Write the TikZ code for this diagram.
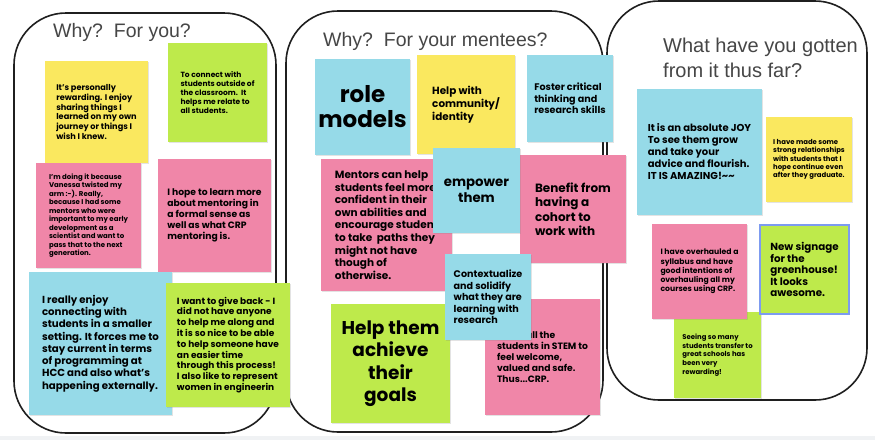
\documentclass[tikz,border=0pt]{standalone}
\usepackage{fontspec}
\usetikzlibrary{shadows}
\newfontfamily\notefont{Poppins}
\newfontfamily\titlefont{Liberation Sans}
\definecolor{noteyellow}{RGB}{250,232,95}
\definecolor{notegreen}{RGB}{190,234,75}
\definecolor{notepink}{RGB}{240,134,168}
\definecolor{noteblue}{RGB}{150,218,232}
\definecolor{titlegray}{RGB}{70,70,70}
\definecolor{selectblue}{RGB}{125,155,240}
\definecolor{bandgray}{RGB}{240,242,244}
\newcommand\notesize[2]{\notefont\bfseries\fontsize{#1}{#2}\selectfont}

\begin{document}
\begin{tikzpicture}[x=1pt,y=-1pt,
  boxline/.style={draw=black!88, line width=1.6pt, rounded corners=52pt},
  title/.style={font=\titlefont\fontsize{19.5}{24.5}\selectfont, text=titlegray,
    inner sep=0pt, anchor=north west, align=left},
  note/.style={inner sep=0pt, align=left,
    drop shadow={shadow xshift=.6pt, shadow yshift=-1.2pt, opacity=.22}},
  notedim/.style 2 args={minimum width=#1pt, minimum height=#2pt},
  yellownote/.style={note, fill=noteyellow},
  greennote/.style={note, fill=notegreen},
  pinknote/.style={note, fill=notepink},
  bluenote/.style={note, fill=noteblue}]

  \fill[white] (0,0) rectangle (875,440);
  \fill[bandgray] (0,436) rectangle (875,440);
  \useasboundingbox (0,0) rectangle (875,440);

  % the three frames
  \draw[boxline] (14,13) rectangle (276,433);
  \draw[boxline] (286,11) rectangle (603,432);
  \draw[boxline] (607,1) rectangle (867,400);

  \node[title] (foryou) at (53,23) {Why?\ \ For you?};
  \node[title] (formentees) at (323,32) {Why?\ \ For your mentees?};
  \node[title, font=\titlefont\fontsize{20}{24.5}\selectfont] (sofar) at (663,38)
    {What have you gotten\\from it thus far?};

  % why? for you?
  \node[yellownote, notedim={103}{102}, font=\notesize{8.2}{9.8}] (rewarding) at (96.5,112)
    {It’s personally\\rewarding. I enjoy\\sharing things I\\learned on my own\\journey or things I\\wish I knew.};
  \node[greennote, notedim={99}{99}, font=\notesize{7.5}{9}] (connect) at (217.5,92.5)
    {To connect with\\students outside of\\the classroom.\ \ It\\helps me relate to\\all students.};
  \node[pinknote, notedim={105}{105}, font=\notesize{7}{8.5}] (vanessa) at (88.5,215.5)
    {I’m doing it because\\Vanessa twisted my\\arm :-). Really,\\because I had some\\mentors who were\\important to my early\\development as a\\scientist and want to\\pass that to the next\\generation.};
  \node[pinknote, notedim={113}{113}, font=\notesize{9.2}{11}] (learn) at (214.5,215.5)
    {I hope to learn more\\about mentoring in\\a formal sense as\\well as what CRP\\mentoring is.};
  \node[bluenote, notedim={143}{143}, font=\notesize{10.2}{12.3}] (enjoy) at (100.5,343.5)
    {I really enjoy\\connecting with\\students in a smaller\\setting. It forces me to\\stay current in terms\\of programming at\\HCC and also what’s\\happening externally.};
  \node[greennote, notedim={124}{124}, font=\notesize{9}{10.8}] (giveback) at (228,345)
    {I want to give back - I\\did not have anyone\\to help me along and\\it is so nice to be able\\to help someone have\\an easier time\\through this process!\\I also like to represent\\women in engineerin};

  % why? for your mentees?
  \node[bluenote, notedim={95}{96}, align=center, font=\notesize{23}{25}] (role) at (362.5,107)
    {role\\models};
  \node[yellownote, notedim={98}{99}, font=\notesize{10.4}{12.5}] (community) at (466,104.5)
    {Help with\\community/\\identity};
  \node[bluenote, notedim={86}{87}, font=\notesize{9.6}{11.5}] (critical) at (570,98.5)
    {Foster critical\\thinking and\\research skills};
  \node[pinknote, notedim={131}{132}, font=\notesize{10.5}{12.6}] (confident) at (386.5,225)
    {Mentors can help\\students feel more\\confident in their\\own abilities and\\encourage student\\to take\ \ paths they\\might not have\\though of\\otherwise.};
  \node[pinknote, notedim={106}{108}, font=\notesize{12}{14.5}] (cohort) at (573,209)
    {Benefit from\\having a\\cohort to\\work with};
  \node[bluenote, notedim={87}{85}, align=center, font=\notesize{13.3}{16}] (empower) at (476.5,190.5)
    {empower\\them};
  \node[pinknote, notedim={115}{116}, font=\notesize{9.2}{11}] (welcome) at (542.5,357)
    {\hspace*{29pt}all the\\students in STEM to\\feel welcome,\\valued and safe.\\Thus...CRP.};
  \node[greennote, notedim={119}{119}, align=center, font=\notesize{18.5}{22.5}] (goals) at (390.5,363.5)
    {Help them\\achieve\\their\\goals};
  \node[bluenote, notedim={86}{86}, font=\notesize{9.6}{11.5}] (context) at (488,297)
    {Contextualize\\and solidify\\what they are\\learning with\\research};

  % what have you gotten from it thus far?
  \node[bluenote, notedim={125}{126}, font=\notesize{10}{12}] (joy) at (699.5,152)
    {It is an absolute JOY\\To see them grow\\and take your\\advice and flourish.\\IT IS AMAZING!\textasciitilde\textasciitilde};
  \node[yellownote, notedim={86}{85}, font=\notesize{6.9}{8.3}] (relations) at (809,159.5)
    {I have made some\\strong relationships\\with students that I\\hope continue even\\after they graduate.};
  \node[greennote, notedim={87}{86}, font=\notesize{6.9}{8.6}] (transfer) at (717.5,355)
    {Seeing so many\\students transfer to\\great schools has\\been very\\rewarding!};
  \node[pinknote, notedim={95}{95}, font=\notesize{7.7}{9.2}] (syllabus) at (699.5,271.5)
    {I have overhauled a\\syllabus and have\\good intentions of\\overhauling all my\\courses using CRP.};
  \node[greennote, notedim={89}{89}, draw=selectblue, line width=1.1pt, font=\notesize{10.3}{11.5}] (signage) at (804.5,269.5)
    {New signage\\for the\\greenhouse!\\It looks\\awesome.};
\end{tikzpicture}
\end{document}
